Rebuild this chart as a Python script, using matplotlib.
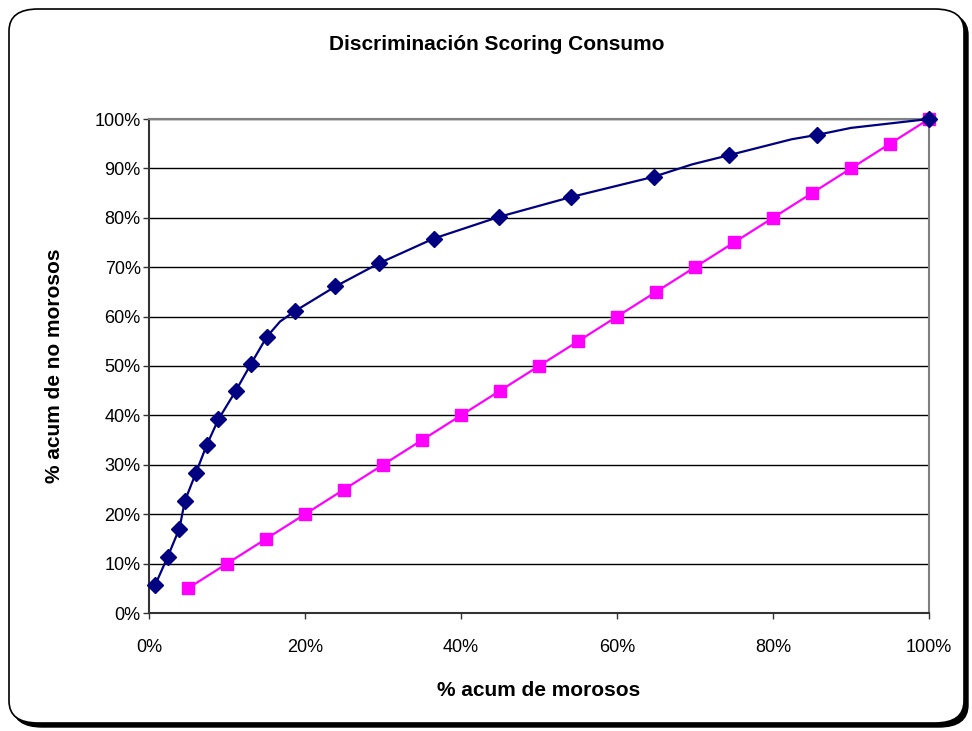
import matplotlib
matplotlib.use("Agg")
import matplotlib.pyplot as plt
from matplotlib.patches import FancyBboxPatch
from matplotlib.ticker import PercentFormatter, MultipleLocator

plt.rcParams['font.family'] = ['Liberation Sans', 'DejaVu Sans']

# Cumulative % of defaulters (x) vs cumulative % of non-defaulters (y)
scoring_x = [0.8, 2.4, 3.9, 4.6, 6.0, 7.4, 8.9, 11.1, 13.1, 15.1, 18.7, 23.9,
             29.5, 36.5, 44.9, 54.1, 64.7, 74.4, 85.7, 100.0]
scoring_y = [5.7, 11.4, 17.1, 22.7, 28.3, 34.0, 39.2, 44.9, 50.5, 55.9, 61.1, 66.1,
             70.8, 75.8, 80.2, 84.2, 88.3, 92.7, 96.8, 100.0]

# Intermediate points of the scoring curve (no marker)
curve_extra_x = [16.8, 69.6, 82.4, 90.0]
curve_extra_y = [59.0, 90.8, 95.9, 98.2]

# Random-model reference (diagonal)
random_x = [5, 10, 15, 20, 25, 30, 35, 40, 45, 50, 55, 60, 65, 70, 75, 80, 85, 90, 95, 100]
random_y = [5, 10, 15, 20, 25, 30, 35, 40, 45, 50, 55, 60, 65, 70, 75, 80, 85, 90, 95, 100]

title = "Discriminación Scoring Consumo"
xlabel = "% acum de morosos"
ylabel = "% acum de no morosos"

fig = plt.figure(figsize=(9.72, 7.31), dpi=100)

# Chart area frame with shadow
shadow = FancyBboxPatch((13 / 972, 4 / 731), 955 / 972, 714 / 731,
                        boxstyle="round,pad=0,rounding_size=0.03",
                        transform=fig.transFigure, facecolor="black",
                        edgecolor="black", linewidth=1, zorder=0)
frame = FancyBboxPatch((9 / 972, 8 / 731), 955 / 972, 714 / 731,
                       boxstyle="round,pad=0,rounding_size=0.03",
                       transform=fig.transFigure, facecolor="white",
                       edgecolor="black", linewidth=1.2, zorder=1)
fig.patches.extend([shadow, frame])

ax = fig.add_axes([149 / 972, (731 - 613) / 731, 780 / 972, 494 / 731])
ax.set_zorder(2)
ax.set_facecolor("white")

# Merge marker points and intermediate points for the line
pts = sorted(zip(scoring_x + curve_extra_x, scoring_y + curve_extra_y))
line_x = [p[0] for p in pts]
line_y = [p[1] for p in pts]

ax.plot(line_x, line_y, color="#000080", linewidth=1.6, zorder=3, clip_on=False)
ax.plot(scoring_x, scoring_y, linestyle="none", marker="D", markersize=8,
        color="#000080", zorder=4, clip_on=False)
ax.plot(random_x, random_y, color="#FF00FF", linewidth=1.6, marker="s",
        markersize=8, zorder=3, clip_on=False)

ax.set_xlim(0, 100)
ax.set_ylim(0, 100)
ax.xaxis.set_major_locator(MultipleLocator(20))
ax.yaxis.set_major_locator(MultipleLocator(10))
ax.xaxis.set_major_formatter(PercentFormatter(100, decimals=0))
ax.yaxis.set_major_formatter(PercentFormatter(100, decimals=0))

ax.grid(axis="y", color="black", linewidth=1.0, zorder=1)
ax.set_axisbelow(True)

for side in ("top", "right"):
    ax.spines[side].set_color("#808080")
    ax.spines[side].set_linewidth(1.5)
for side in ("left", "bottom"):
    ax.spines[side].set_color("#333333")
    ax.spines[side].set_linewidth(1.5)

ax.tick_params(axis="both", direction="out", length=4, width=1, color="#333333",
               labelsize=13)
ax.tick_params(axis="y", pad=2)
ax.tick_params(axis="x", pad=15)

fig.text(497 / 972, 1 - 45 / 731, title, ha="center", va="center",
         fontsize=15, fontweight="bold")
ax.set_xlabel(xlabel, fontsize=15, fontweight="bold", labelpad=18)
ax.set_ylabel(ylabel, fontsize=15, fontweight="bold", labelpad=22)

fig.savefig("out.png", dpi=100)
